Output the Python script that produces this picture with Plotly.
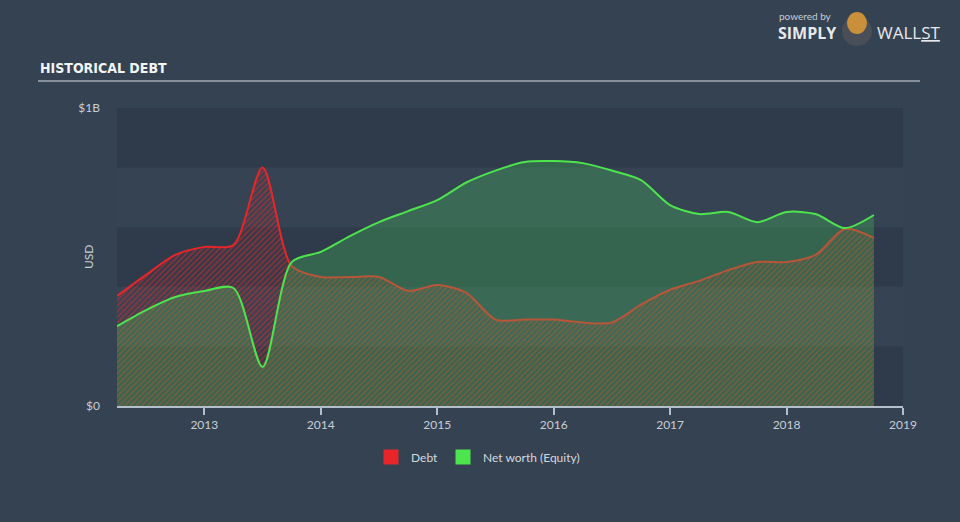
import plotly.graph_objects as go

# ---- data (billions USD), quarterly decimal years ----
years = [2012.25, 2012.5, 2012.75, 2013.0, 2013.25, 2013.5, 2013.75, 2014.0, 2014.25,
         2014.5, 2014.75, 2015.0, 2015.25, 2015.5, 2015.75, 2016.0, 2016.25, 2016.5,
         2016.75, 2017.0, 2017.25, 2017.5, 2017.75, 2018.0, 2018.25, 2018.5, 2018.75]
debt = [0.369, 0.44, 0.507, 0.534, 0.54, 0.80, 0.47, 0.433, 0.433,
        0.433, 0.386, 0.406, 0.38, 0.29, 0.29, 0.29, 0.28, 0.28,
        0.34, 0.39, 0.42, 0.456, 0.483, 0.483, 0.507, 0.594, 0.564]
equity = [0.268, 0.322, 0.366, 0.386, 0.396, 0.131, 0.483, 0.517, 0.57,
          0.617, 0.654, 0.691, 0.75, 0.79, 0.819, 0.822, 0.815, 0.79,
          0.758, 0.674, 0.644, 0.651, 0.617, 0.651, 0.644, 0.597, 0.641]
year_ticks = [2013, 2014, 2015, 2016, 2017, 2018, 2019]
y_ticks = [0, 1]
y_ticklabels = ["$0", "$1B"]

# ---- layout helpers (pixel -> paper) ----
L, R, T, B = 117, 903, 108, 406
def xp(px):
    return (px - L) / (R - L)
def yp(py):
    return (B - py) / (B - T)

RED = "#e8262a"
GREEN = "#4ee44e"
TXT = "#c9ced5"
FONT = "Lato, Open Sans, sans-serif"

fig = go.Figure()

# Debt (hatched red)
fig.add_trace(go.Scatter(
    x=years, y=debt, mode="lines", line=dict(color=RED, width=2, shape="spline", smoothing=0.8),
    fill="tozeroy", fillcolor="rgba(0,0,0,0)",
    fillpattern=dict(shape="/", fgcolor=RED, size=4, solidity=0.45),
    showlegend=False, hoverinfo="skip"))

# Equity (translucent green) on top
fig.add_trace(go.Scatter(
    x=years, y=equity, mode="lines", line=dict(color=GREEN, width=2, shape="spline", smoothing=0.8),
    fill="tozeroy", fillcolor="rgba(70,200,90,0.30)",
    showlegend=False, hoverinfo="skip"))

# legend proxies
fig.add_trace(go.Scatter(x=[None], y=[None], mode="markers", name="Debt",
                         marker=dict(symbol="square", size=15, color=RED)))
fig.add_trace(go.Scatter(x=[None], y=[None], mode="markers", name="Net worth (Equity)",
                         marker=dict(symbol="square", size=15, color=GREEN)))

shapes = []
# horizontal bands
for i in range(5):
    if i % 2 == 0:
        shapes.append(dict(type="rect", xref="paper", yref="y", x0=0, x1=1,
                           y0=i * 0.2, y1=(i + 1) * 0.2, fillcolor="#2f3b4a",
                           line=dict(width=0), layer="below"))
# title underline
shapes.append(dict(type="line", xref="paper", yref="paper", x0=xp(38), x1=xp(920),
                   y0=yp(81), y1=yp(81), line=dict(color="#a3abb5", width=1.5)))
# logo icon
shapes.append(dict(type="circle", xref="paper", yref="paper", x0=xp(842), x1=xp(872),
                   y0=yp(46), y1=yp(16), fillcolor="#4a4f57", line=dict(width=0)))
shapes.append(dict(type="circle", xref="paper", yref="paper", x0=xp(847), x1=xp(867),
                   y0=yp(34), y1=yp(12), fillcolor="#c98f3a", line=dict(width=0)))

annotations = [
    dict(text="<b>HISTORICAL DEBT</b>", x=xp(38), y=yp(68), xref="paper", yref="paper",
         xanchor="left", yanchor="middle", showarrow=False,
         font=dict(family="Liberation Sans Narrow, DejaVu Sans Condensed, sans-serif",
                   size=14, color="#f2f4f6")),
    dict(text="USD", x=xp(88), y=yp(257), xref="paper", yref="paper", textangle=-90,
         xanchor="center", yanchor="middle", showarrow=False,
         font=dict(family=FONT, size=12, color=TXT)),
    dict(text="powered by", x=xp(777), y=yp(16), xref="paper", yref="paper",
         xanchor="left", yanchor="middle", showarrow=False,
         font=dict(family=FONT, size=10, color="#c8cdd3")),
    dict(text="<b>SIMPLY</b>", x=xp(776), y=yp(33), xref="paper", yref="paper",
         xanchor="left", yanchor="middle", showarrow=False,
         font=dict(family="Open Sans, sans-serif", size=16, color="#e6e8eb")),
    dict(text="WALL<u>ST</u>", x=xp(875), y=yp(33), xref="paper", yref="paper",
         xanchor="left", yanchor="middle", showarrow=False,
         font=dict(family="Open Sans, sans-serif", size=17, color="#e6e8eb")),
]

fig.update_layout(
    width=960, height=522,
    margin=dict(l=L, r=960 - R, t=T, b=522 - B),
    paper_bgcolor="#344252", plot_bgcolor="#354353",
    font=dict(family=FONT, size=12, color=TXT),
    shapes=shapes, annotations=annotations,
    showlegend=True,
    legend=dict(orientation="h", x=xp(478), y=yp(457), xanchor="center", yanchor="middle",
                font=dict(family=FONT, size=12, color="#d4d8de"), bgcolor="rgba(0,0,0,0)",
                itemwidth=30),
    xaxis=dict(range=[2012.25, 2019.0], tickvals=year_ticks, ticktext=[str(y) for y in year_ticks],
               showgrid=False, zeroline=False, showline=True, linecolor="#b3bfcb", linewidth=1.5,
               ticks="outside", ticklen=7, tickcolor="#b3bfcb", tickwidth=1.5,
               tickfont=dict(family=FONT, size=12, color=TXT), fixedrange=True),
    yaxis=dict(range=[0, 1], tickvals=y_ticks, ticktext=y_ticklabels, showgrid=False,
               zeroline=False, showline=False, ticks="", ticklabelstandoff=16,
               tickfont=dict(family=FONT, size=12, color=TXT), fixedrange=True),
)

fig.write_html("out.html")
